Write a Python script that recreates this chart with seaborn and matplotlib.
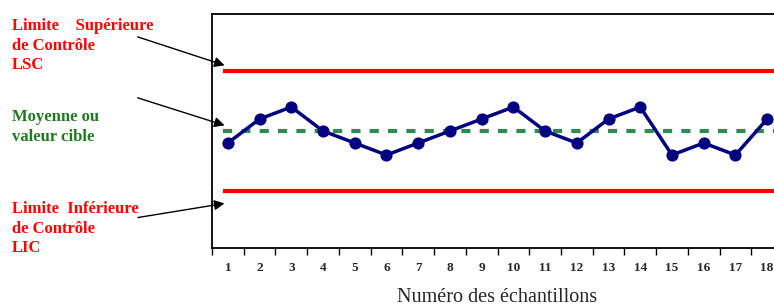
import matplotlib
matplotlib.use("Agg")
import matplotlib.pyplot as plt
import numpy as np
import pandas as pd
import seaborn as sns

# data
echantillons = list(range(1, 19))
valeurs = [-1, 1, 2, 0, -1, -2, -1, 0, 1, 2, 0, -1, 1, 2, -2, -1, -2, 1]
moyenne = 0
lsc = 5
lic = -5

ROUGE = "#ff0000"
VERT_TEXTE = "#1f7a1f"
VERT_LIGNE = "#2e8b57"
BLEU = "#000080"

sns.set_style("white")
plt.rcParams["font.family"] = ["Liberation Serif", "DejaVu Serif"]

fig = plt.figure(figsize=(7.74, 3.07), dpi=100)
ax = fig.add_axes([212 / 774, 1 - 248 / 307, (783 - 212) / 774, (248 - 14) / 307])

df = pd.DataFrame({"echantillon": echantillons, "valeur": valeurs})

ax.hlines([lsc, lic], 0.85, 18.6, color=ROUGE, linewidth=3)
ax.hlines(moyenne, 0.85, 18.6, color=VERT_LIGNE, linewidth=3, linestyles=(0, (2.2, 2.2)))
sns.lineplot(data=df, x="echantillon", y="valeur", ax=ax, color=BLEU, linewidth=2.5,
             marker="o", markersize=8, markeredgecolor=BLEU)

ax.set_xlim(0.5, 18.5)
ax.set_ylim(-9.75, 9.75)
ax.set_yticks([])
ax.set_xticks(echantillons)
ax.set_xticklabels([str(e) for e in echantillons], fontsize=9.5, fontweight="bold")
ax.set_xticks(np.arange(0.5, 19, 1), minor=True)
ax.tick_params(axis="x", which="major", length=0, pad=10)
ax.tick_params(axis="x", which="minor", length=5, width=1, direction="out", color="black", bottom=True)
ax.set_xlabel("")
ax.set_ylabel("")
for s in ax.spines.values():
    s.set_color("black")
    s.set_linewidth(1.3)

fig.text(497 / 774, 1 - 297 / 307, "Numéro des échantillons",
         ha="center", va="center", fontsize=14.5)

style = dict(fontsize=12, fontweight="bold", va="top", ha="left", linespacing=1.3)
fig.text(12 / 774, 1 - 18 / 307, "Limite    Supérieure\nde Contrôle\nLSC", color=ROUGE, **style)
fig.text(12 / 774, 1 - 109 / 307, "Moyenne ou\nvaleur cible", color=VERT_TEXTE, **style)
fig.text(12 / 774, 1 - 201 / 307, "Limite  Inférieure\nde Contrôle\nLIC", color=ROUGE, **style)

fleches = [((135, 36), 5.4), ((135, 97), 0.4), ((135, 218), -6.0)]
for (px, py), yfin in fleches:
    ax.annotate("", xy=(0.98, yfin), xycoords="data",
                xytext=(px / 774, 1 - py / 307), textcoords="figure fraction",
                arrowprops=dict(arrowstyle="-|>", color="black", lw=1, mutation_scale=15),
                annotation_clip=False)

fig.savefig("out.png", dpi=100)
